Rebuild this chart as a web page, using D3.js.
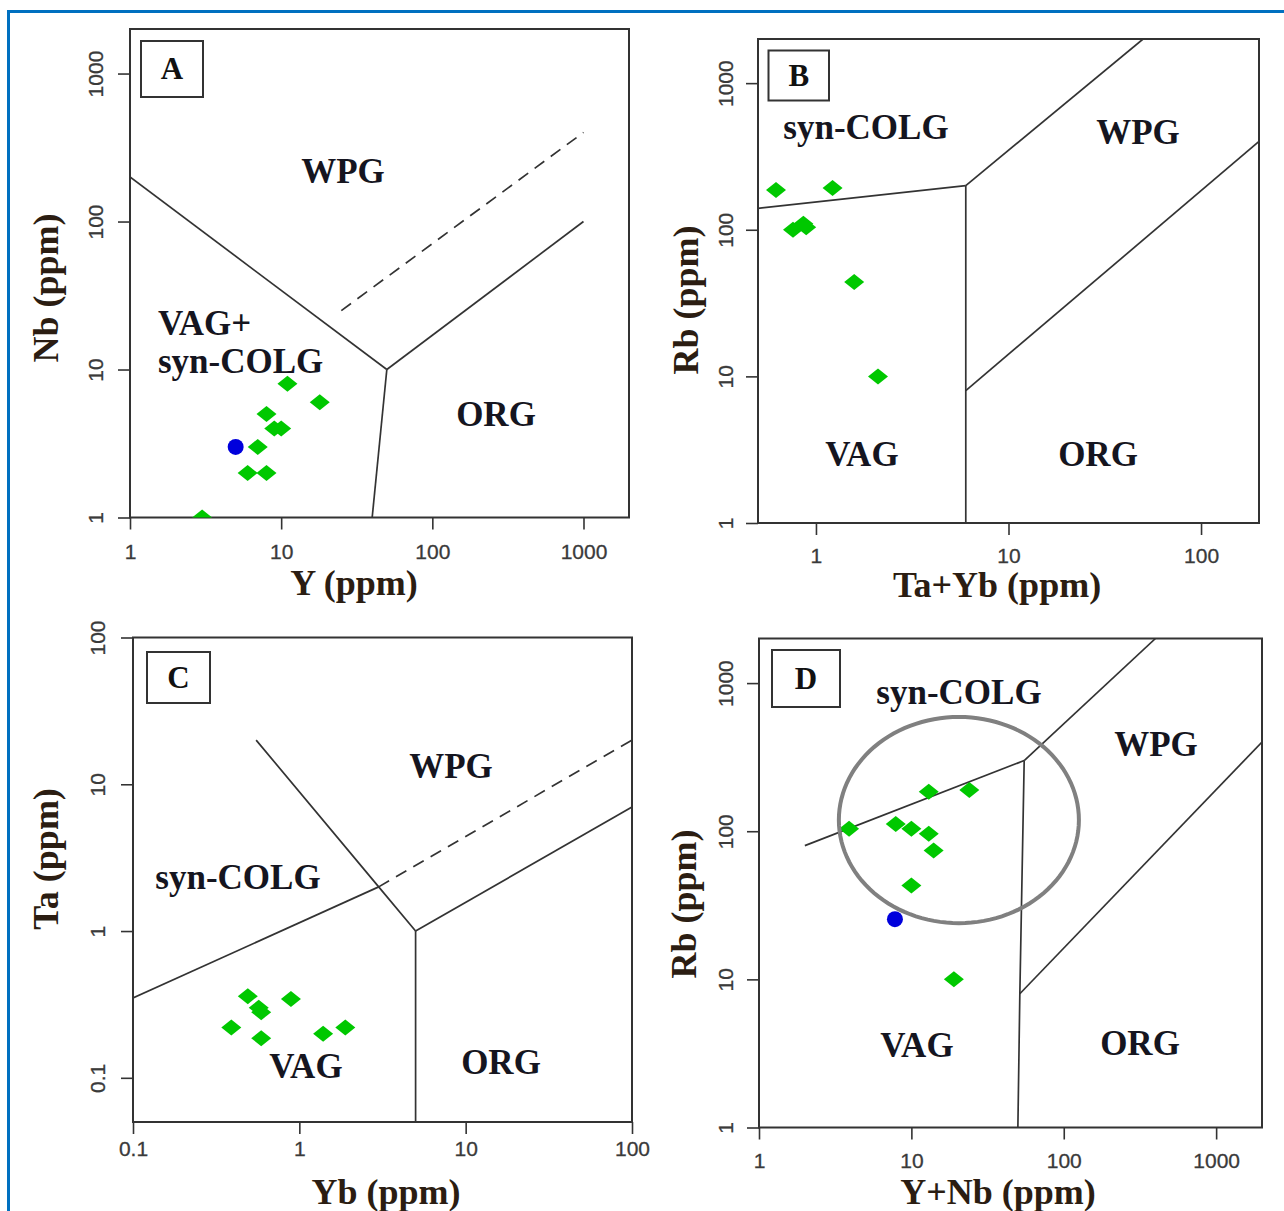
<!DOCTYPE html>
<html>
<head>
<meta charset="utf-8">
<script src="https://cdn.jsdelivr.net/npm/d3@7"></script>
<style>
  body { margin: 0; background: #fff; }
  .tick text { font-family: "Liberation Sans", Arial, sans-serif; font-size: 21px; fill: #3a3a3a; stroke: #3a3a3a; stroke-width: 0.3; }
  .tick line { stroke: #333; stroke-width: 1.6; }
  .region { font-family: "Liberation Serif", "Times New Roman", serif; font-weight: bold; font-size: 35px; fill: #151520; }
  .title { font-family: "Liberation Serif", "Times New Roman", serif; font-weight: bold; font-size: 36px; fill: #2b1d12; }
  .letter { font-family: "Liberation Serif", "Times New Roman", serif; font-weight: bold; font-size: 31px; fill: #111; }
</style>
</head>
<body>
<div id="chart-area"></div>
<script>
// ---- DATA ----
// A: Nb vs Y
const aY  = [11, 18, 8, 9, 10, 7, 6, 8, 3];
const aNb = [8, 6, 5, 4, 4, 3, 2, 2, 1];
const aBlueY  = [5];
const aBlueNb = [3];
const aXTicks = [1, 10, 100, 1000];
const aYTicks = [1, 10, 100, 1000];

// B: Rb vs Ta+Yb
const bTaYb = [0.62, 1.22, 0.76, 0.86, 0.89, 1.58, 2.1];
const bRb   = [187, 193, 100, 110, 104, 44, 10];
const bXTicks = [1, 10, 100];
const bYTicks = [1, 10, 100, 1000];

// C: Ta vs Yb
const cYb = [0.49, 0.89, 0.59, 0.57, 0.39, 0.59, 1.39, 1.89];
const cTa = [0.36, 0.345, 0.28, 0.30, 0.22, 0.186, 0.2, 0.22];
const cXTicks = [0.1, 1, 10, 100];
const cYTicks = [0.1, 1, 10, 100];

// D: Rb vs Y+Nb
const dYNb = [13, 24, 3.9, 7.9, 10, 13, 14, 10, 19];
const dRb  = [185, 190, 104, 112, 104, 96, 74, 43, 10];
const dBlueYNb = [7.8];
const dBlueRb  = [25.5];
const dXTicks = [1, 10, 100, 1000];
const dYTicks = [1, 10, 100, 1000];

// field boundaries (Pearce et al. 1984), [x, y] pairs
const aLines = [
  [[1, 200], [50, 10]],
  [[50, 10], [1000, 100]],
  [[50, 10], [40, 1]]
];
const aDashed = [[[25, 25], [1000, 400]]];
const bLines = [
  [[0.5, 140], [6, 200]],
  [[6, 200], [50, 2000]],
  [[6, 200], [6, 1]],
  [[6, 8], [200, 400]]
];
const cLines = [
  [[0.1, 0.35], [3, 2]],
  [[0.55, 20], [3, 2], [5, 1]],
  [[5, 1], [100, 7]],
  [[5, 1], [5, 0.05]]
];
const cDashed = [[[3, 2], [100, 20]]];
const dLines = [
  [[2, 80], [55, 300]],
  [[55, 300], [400, 2000]],
  [[55, 300], [51.5, 8], [50, 1]],
  [[51.5, 8], [2000, 400]]
];
// highlighted group in D: centre and extent in data units
const dRingCentre = [20.5, 119];
const dRingX = [3.35, 126];
const dRingY = [24, 592];

// ---- LAYOUT ----
const svg = d3.select("#chart-area")
  .append("svg")
  .attr("width", 1284)
  .attr("height", 1211);

// blue frame (top + left only visible)
svg.append("path")
  .attr("d", "M8.5,1211 L8.5,11.5 L1284,11.5")
  .attr("fill", "none")
  .attr("stroke", "#0070c0")
  .attr("stroke-width", 3);

const green = "#00c800", blue = "#0000dc";
const diamond = "M0,-8L10,0L0,8L-10,0Z";

function panel(p) {
  const x = d3.scaleLog().domain(p.xDomain).range([p.left, p.right]);
  const y = d3.scaleLog().domain(p.yDomain).range([p.bottom, p.top]);
  const g = svg.append("g");
  const line = d3.line().x(d => x(d[0])).y(d => y(d[1]));

  const clipId = "clip-" + p.id;
  svg.append("clipPath").attr("id", clipId)
    .append("rect")
    .attr("x", p.left).attr("y", p.top)
    .attr("width", p.right - p.left).attr("height", p.bottom - p.top);

  // axes
  const xAxis = g.append("g")
    .attr("transform", "translate(0," + p.bottom + ")")
    .call(d3.axisBottom(x).tickValues(p.xTicks).tickSize(12).tickFormat(d3.format("")));
  xAxis.select(".domain").remove();
  xAxis.selectAll("text").attr("y", p.xLabelGap).attr("dy", 0);

  const yAxis = g.append("g")
    .attr("transform", "translate(" + p.left + ",0)")
    .call(d3.axisLeft(y).tickValues(p.yTicks).tickSize(12).tickFormat(d3.format("")));
  yAxis.select(".domain").remove();
  yAxis.selectAll("text")
    .attr("x", 0).attr("dy", 0)
    .attr("text-anchor", "middle")
    .attr("transform", "translate(" + (-p.yLabelGap) + ",0) rotate(-90)");

  // boundaries
  g.append("g").attr("clip-path", "url(#" + clipId + ")")
    .selectAll("path.solid")
    .data(p.lines)
    .enter().append("path")
    .attr("d", line)
    .attr("fill", "none")
    .attr("stroke", "#333")
    .attr("stroke-width", 1.7);

  g.append("g").attr("clip-path", "url(#" + clipId + ")")
    .selectAll("path.dash")
    .data(p.dashed || [])
    .enter().append("path")
    .attr("d", line)
    .attr("fill", "none")
    .attr("stroke", "#333")
    .attr("stroke-width", 1.7)
    .attr("stroke-dasharray", "12,8");

  // plot box
  g.append("rect")
    .attr("x", p.left).attr("y", p.top)
    .attr("width", p.right - p.left).attr("height", p.bottom - p.top)
    .attr("fill", "none").attr("stroke", "#333").attr("stroke-width", 2);

  // letter box
  g.append("rect")
    .attr("x", p.box[0]).attr("y", p.box[1])
    .attr("width", p.box[2]).attr("height", p.box[3])
    .attr("fill", "#fff").attr("stroke", "#333").attr("stroke-width", 2);
  g.append("text").attr("class", "letter")
    .attr("x", p.box[0] + p.box[2] / 2)
    .attr("y", p.box[1] + p.box[3] / 2 + 10)
    .attr("text-anchor", "middle")
    .text(p.id);

  // field names
  g.selectAll("text.region")
    .data(p.regions)
    .enter().append("text")
    .attr("class", "region")
    .attr("x", d => d[1]).attr("y", d => d[2])
    .attr("text-anchor", d => d[3] || "middle")
    .text(d => d[0]);

  // axis titles
  g.append("text").attr("class", "title")
    .attr("x", p.xTitle[0]).attr("y", p.xTitle[1])
    .attr("text-anchor", "middle").text(p.xTitle[2]);
  g.append("text").attr("class", "title")
    .attr("text-anchor", "middle")
    .attr("transform", "translate(" + p.yTitle[0] + "," + p.yTitle[1] + ") rotate(-90)")
    .text(p.yTitle[2]);

  // samples
  const pts = g.append("g").attr("clip-path", "url(#" + clipId + ")");
  pts.selectAll("path.pt")
    .data(d3.zip(p.xs, p.ys))
    .enter().append("path")
    .attr("d", diamond)
    .attr("transform", d => "translate(" + x(d[0]) + "," + y(d[1]) + ")")
    .attr("fill", green);
  pts.selectAll("circle")
    .data(d3.zip(p.blueX || [], p.blueY || []))
    .enter().append("circle")
    .attr("cx", d => x(d[0])).attr("cy", d => y(d[1]))
    .attr("r", 8)
    .attr("fill", blue);

  return { x, y, g };
}

panel({
  id: "A", left: 130, right: 629, top: 29, bottom: 517.5,
  xDomain: [1, 2000], yDomain: [1, 2000],
  xTicks: aXTicks, yTicks: aYTicks, xLabelGap: 41, yLabelGap: 27,
  lines: aLines, dashed: aDashed,
  xs: aY, ys: aNb, blueX: aBlueY, blueY: aBlueNb,
  box: [141, 41, 62, 56],
  regions: [["WPG", 343, 183], ["VAG+", 158, 335, "start"], ["syn-COLG", 158, 373, "start"], ["ORG", 496, 426]],
  xTitle: [354, 595, "Y (ppm)"], yTitle: [58, 288, "Nb (ppm)"]
});

panel({
  id: "B", left: 758, right: 1259, top: 39, bottom: 523,
  xDomain: [0.5, 200], yDomain: [1, 2000],
  xTicks: bXTicks, yTicks: bYTicks, xLabelGap: 40, yLabelGap: 25,
  lines: bLines,
  xs: bTaYb, ys: bRb,
  box: [768.5, 50.5, 60.5, 50],
  regions: [["syn-COLG", 866, 139], ["WPG", 1138, 144], ["VAG", 862, 466], ["ORG", 1098, 466]],
  xTitle: [997, 597, "Ta+Yb (ppm)"], yTitle: [698, 300, "Rb (ppm)"]
});

panel({
  id: "C", left: 133, right: 632, top: 637.5, bottom: 1122,
  xDomain: [0.1, 100], yDomain: [0.05, 100],
  xTicks: cXTicks, yTicks: cYTicks, xLabelGap: 34, yLabelGap: 28,
  lines: cLines, dashed: cDashed,
  xs: cYb, ys: cTa,
  box: [147, 652, 63, 51],
  regions: [["WPG", 451, 778], ["syn-COLG", 238, 889], ["VAG", 306, 1078], ["ORG", 501, 1074]],
  xTitle: [386, 1204, "Yb (ppm)"], yTitle: [58, 859, "Ta (ppm)"]
});

const pd = panel({
  id: "D", left: 759, right: 1262, top: 638.5, bottom: 1127.5,
  xDomain: [1, 2000], yDomain: [1, 2000],
  xTicks: dXTicks, yTicks: dYTicks, xLabelGap: 40, yLabelGap: 26,
  lines: dLines,
  xs: dYNb, ys: dRb, blueX: dBlueYNb, blueY: dBlueRb,
  box: [772, 650, 68, 57],
  regions: [["syn-COLG", 959, 704], ["WPG", 1156, 756], ["VAG", 917, 1057], ["ORG", 1140, 1055]],
  xTitle: [998, 1204, "Y+Nb (ppm)"], yTitle: [696, 904, "Rb (ppm)"]
});

// ring round the clustered samples in D (an ellipse in log space)
const lc = dRingCentre.map(Math.log10);
const rx = (Math.log10(dRingX[1]) - Math.log10(dRingX[0])) / 2;
const ry = (Math.log10(dRingY[1]) - Math.log10(dRingY[0])) / 2;
const ring = d3.range(0, 361, 3).map(a => {
  const t = a * Math.PI / 180;
  return [Math.pow(10, lc[0] + rx * Math.cos(t)), Math.pow(10, lc[1] + ry * Math.sin(t))];
});
pd.g.append("path")
  .attr("d", d3.line().x(d => pd.x(d[0])).y(d => pd.y(d[1]))(ring) + "Z")
  .attr("fill", "none")
  .attr("stroke", "#808080")
  .attr("stroke-width", 4);
</script>
</body>
</html>
